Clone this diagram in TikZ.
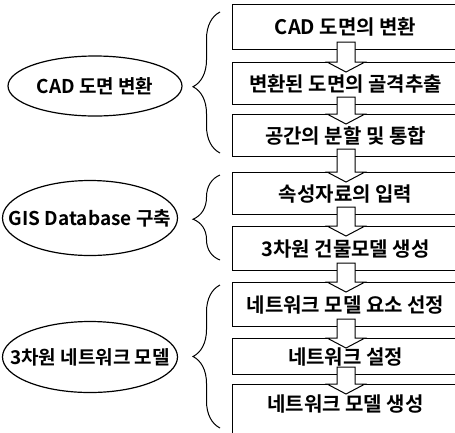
\documentclass[tikz,border=0pt]{standalone}
\usepackage{fontspec}
\setmainfont{Noto Sans CJK KR}[BoldFont={Noto Sans CJK KR Bold}]
\usetikzlibrary{shapes.geometric,decorations.pathreplacing,calc}
\begin{document}
\begin{tikzpicture}[x=1pt,y=-1pt,
  box/.style={draw, line width=1.1pt, minimum width=226pt, anchor=north west,
    inner sep=0pt, font=\fontsize{20}{22}\selectfont\bfseries},
  boxtext/.style={inner sep=0pt, font=\fontsize{20}{22}\selectfont\bfseries},
  oval/.style={draw, ellipse, line width=1.2pt, inner sep=0pt},
  ovaltext/.style={inner sep=0pt, font=\fontsize{19}{21}\selectfont\bfseries},
  blockarrow/.style={draw, fill=white, line width=1pt, line join=miter},
  bracestyle/.style={decorate, line width=1pt,
    decoration={brace, amplitude=27pt, aspect=#1}}
]
\useasboundingbox (0,0) rectangle (455,432);
\clip (0,0) rectangle (455,432);

% boxes
\node[box, minimum height=45pt] (b1) at (232,4) {CAD 도면의 변환};
\node[box, minimum height=42pt] (b2) at (232,62) {변환된 도면의 골격추출};
\node[box, minimum height=42pt] (b3) at (232,114) {공간의 분할 및 통합};
\node[box, minimum height=42pt] (b4) at (232,172) {속성자료의 입력};
\node[box, minimum height=44pt] (b5) at (232,226) {3차원 건물모델 생성};
\node[box, minimum height=44pt] (b6) at (232,282) {네트워크 모델 요소 선정};
\node[box, minimum height=36pt] (b7) at (232,338) {네트워크 설정};
\node[box, minimum height=60pt] (b8) at (232,384) {};
\node[boxtext] (t8) at ($(b8.north)+(0,20)$) {네트워크 모델 생성};

% block arrows
\coordinate (ax) at (346,0);
\newcommand\flowarrow[2]{%
  \path (#1.south -| ax) coordinate (s) (#2.north -| ax) coordinate (t);
  \draw[blockarrow] ($(s)+(-9,-8)$) -- ($(t)+(-9,0)$) -- ($(t)+(-19,0)$)
    -- ($(t)+(0,10)$) -- ($(t)+(19,0)$) -- ($(t)+(9,0)$) -- ($(s)+(9,-8)$) -- cycle;
}
\flowarrow{b1}{b2}
\flowarrow{b2}{b3}
\flowarrow{b3}{b4}
\flowarrow{b4}{b5}
\flowarrow{b5}{b6}
\flowarrow{b6}{b7}
\flowarrow{b7}{b8}

% ellipses
\node[oval, minimum width=174pt, minimum height=60pt] (e1) at (95,86) {};
\node[ovaltext] (e1t) at (e1.center) {CAD 도면 변환};
\node[oval, minimum width=175pt, minimum height=75pt] (e2) at (90,218) {};
\node[ovaltext] (e2t) at (e2.center) {GIS Database 구축};
\node[oval, minimum width=175pt, minimum height=71pt] (e3) at (90,357) {};
\node[ovaltext] (e3t) at (e3.center) {3차원 네트워크 모델};

% braces
\coordinate (br1a) at (220,153); \coordinate (br1b) at (220,12);
\coordinate (br2a) at (220,260); \coordinate (br2b) at (220,175);
\coordinate (br3a) at (220,428); \coordinate (br3b) at (220,285);
\draw[bracestyle=0.47] (br1a) -- (br1b);
\draw[bracestyle=0.48] (br2a) -- (br2b);
\draw[bracestyle=0.5] (br3a) -- (br3b);
\end{tikzpicture}
\end{document}
